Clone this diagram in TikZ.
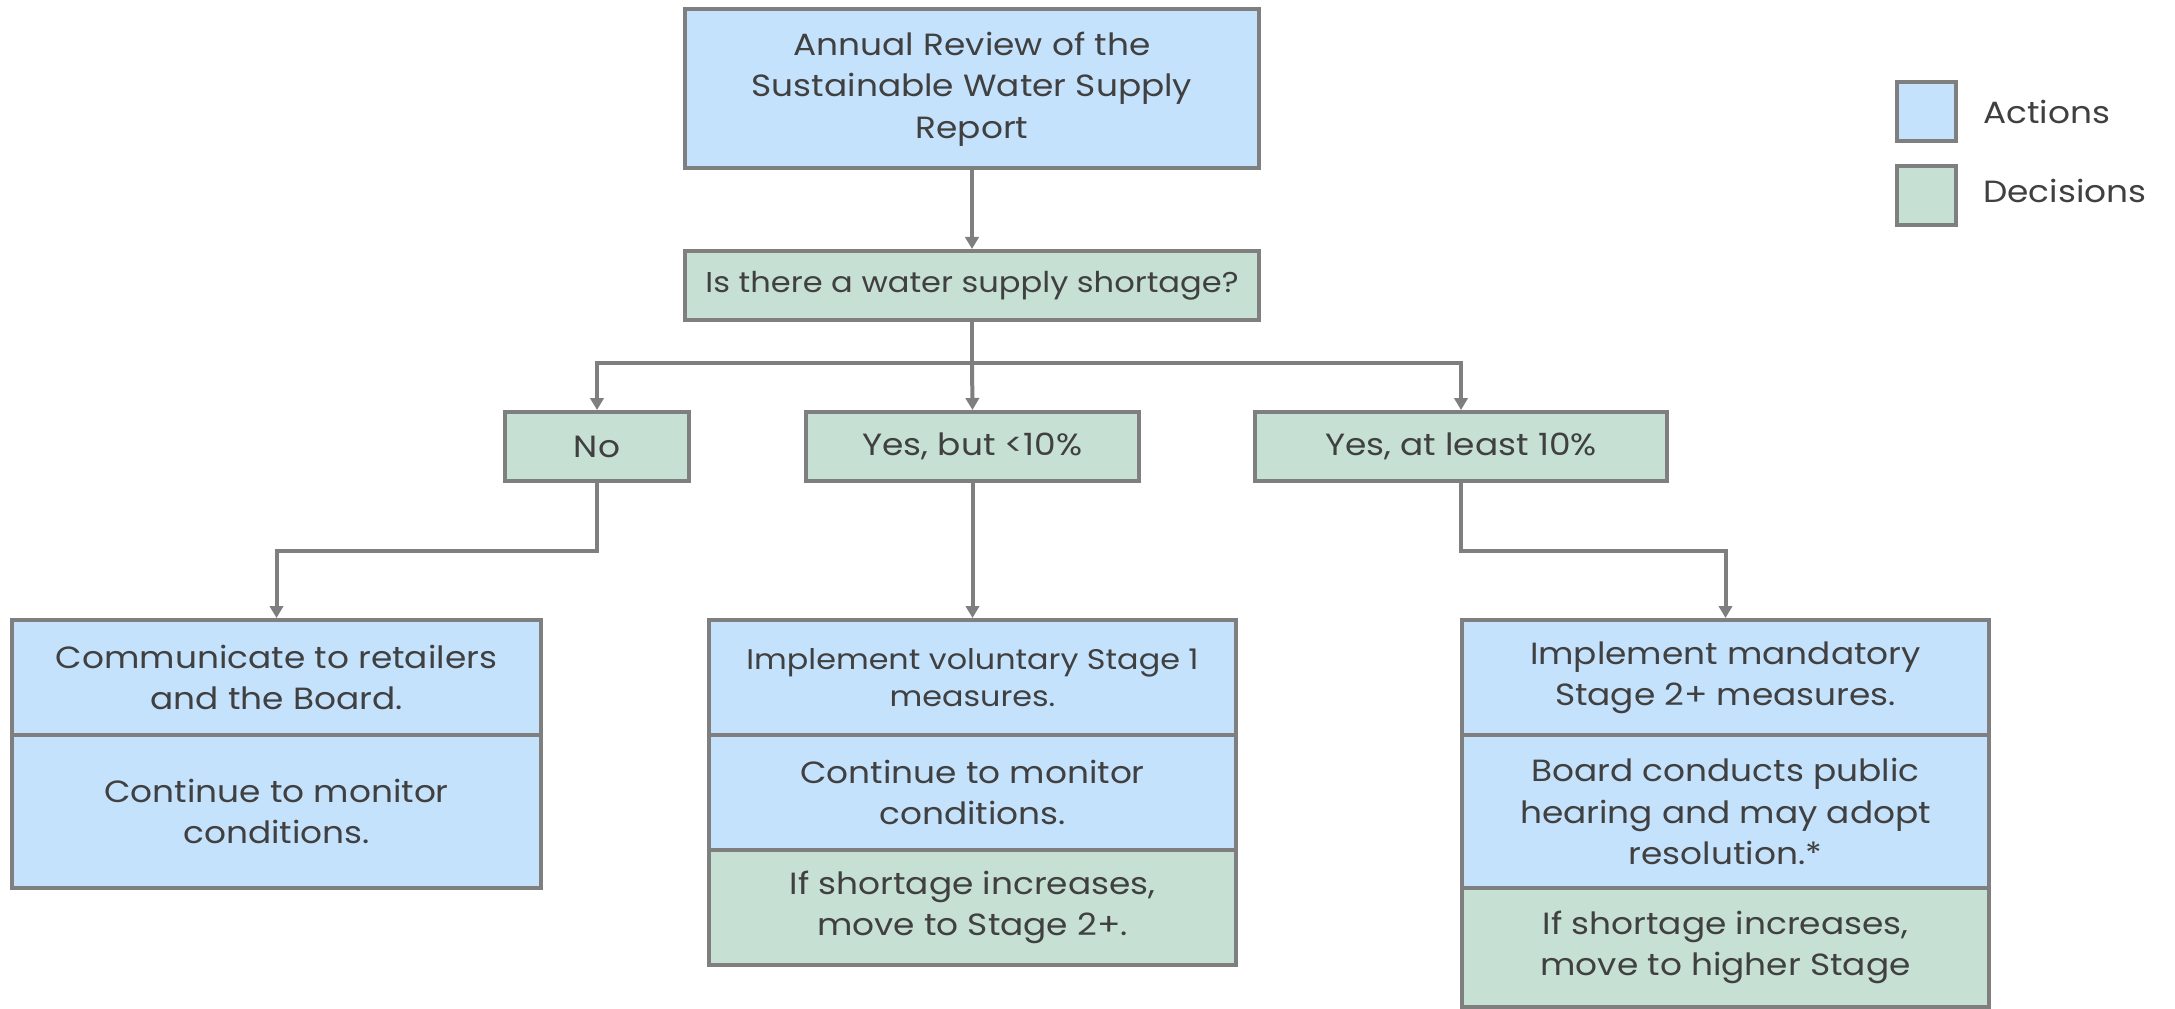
\documentclass[tikz,border=0pt]{standalone}
\usepackage{fontspec}
\setmainfont{Poppins}[FakeStretch=1.12]
\usetikzlibrary{arrows.meta}
\definecolor{actblue}{RGB}{197,226,253}
\definecolor{decgreen}{RGB}{198,224,212}
\definecolor{edgegray}{RGB}{127,127,127}
\definecolor{txtgray}{RGB}{64,64,64}
\tikzset{
  box/.style={draw=edgegray, line width=3pt, align=center, text=txtgray,
    inner sep=0pt, font=\fontsize{23}{31}\selectfont},
  actbox/.style={box, fill=actblue},
  decbox/.style={box, fill=decgreen},
  conn/.style={draw=edgegray, line width=3pt},
  arr/.style={conn, -{Triangle[length=9pt,width=10pt]}},
}
\begin{document}
\begin{tikzpicture}[x=0.75pt,y=-0.75pt]
\useasboundingbox (0,0) rectangle (2175,1009);
% top
\node[actbox, minimum width=574*0.75pt, minimum height=159*0.75pt] (top) at (972,89)
  {Annual Review of the\\Sustainable Water Supply\\Report};
\node[decbox, minimum width=574*0.75pt, minimum height=69*0.75pt, font=\fontsize{21.5}{31}\selectfont] (q) at (972,285.5)
  {Is there a water supply shortage?};
% options
\node[decbox, minimum width=184*0.75pt, minimum height=69*0.75pt] (no) at (597,446.5) {No};
\node[decbox, minimum width=333*0.75pt, minimum height=69*0.75pt] (ya) at (972.5,446.5) {Yes, but <10\%};
\node[decbox, minimum width=412*0.75pt, minimum height=69*0.75pt] (yb) at (1461,446.5) {Yes, at least 10\%};
% left column
\node[actbox, minimum width=529*0.75pt, minimum height=115*0.75pt] (l1) at (276.5,677.5)
  {Communicate to retailers\\and the Board.};
\node[actbox, minimum width=529*0.75pt, minimum height=153*0.75pt] (l2) at (276.5,811.5)
  {Continue to monitor\\conditions.};
% middle column
\node[actbox, minimum width=527*0.75pt, minimum height=115*0.75pt, font=\fontsize{21.3}{28}\selectfont] (m1) at (972.5,677.5)
  {Implement voluntary Stage 1\\measures.};
\node[actbox, minimum width=527*0.75pt, minimum height=115*0.75pt] (m2) at (972.5,792.5)
  {Continue to monitor\\conditions.};
\node[decbox, minimum width=527*0.75pt, minimum height=115*0.75pt] (m3) at (972.5,907.5)
  {If shortage increases,\\move to Stage 2+.};
% right column
\node[actbox, minimum width=527*0.75pt, minimum height=115*0.75pt] (r1) at (1725.5,677.5)
  {Implement mandatory\\Stage 2+ measures.};
\node[actbox, minimum width=527*0.75pt, minimum height=153*0.75pt] (r2) at (1725.5,811.5)
  {Board conducts public\\hearing and may adopt\\resolution.*};
\node[decbox, minimum width=527*0.75pt, minimum height=119*0.75pt] (r3) at (1725.5,947.5)
  {If shortage increases,\\move to higher Stage};
% legend
\node[actbox, minimum width=59*0.75pt, minimum height=59*0.75pt] (la) at (1926.5,111.5) {};
\node[decbox, minimum width=59*0.75pt, minimum height=59*0.75pt] (ld) at (1926.5,195.5) {};
\node[anchor=west, text=txtgray, inner sep=0pt, font=\fontsize{23}{31}\selectfont] (lat) at (1983,111.5) {Actions};
\node[anchor=west, text=txtgray, inner sep=0pt, font=\fontsize{23}{31}\selectfont] (ldt) at (1983,191) {Decisions};
% connectors
\draw[arr] (top.south) -- (q.north);
\coordinate (br) at (972,363);
\draw[conn] (q.south) -- (br);
\draw[arr] (br) -| (no.north);
\draw[arr] (br) -- (ya.north);
\draw[arr] (br) -| (yb.north);
\coordinate (nl) at (597,551);
\coordinate (nr) at (1461,551);
\draw[arr] (no.south) -- (nl) -| (l1.north);
\draw[arr] (ya.south) -- (m1.north);
\draw[arr] (yb.south) -- (nr) -| (r1.north);
\end{tikzpicture}
\end{document}
